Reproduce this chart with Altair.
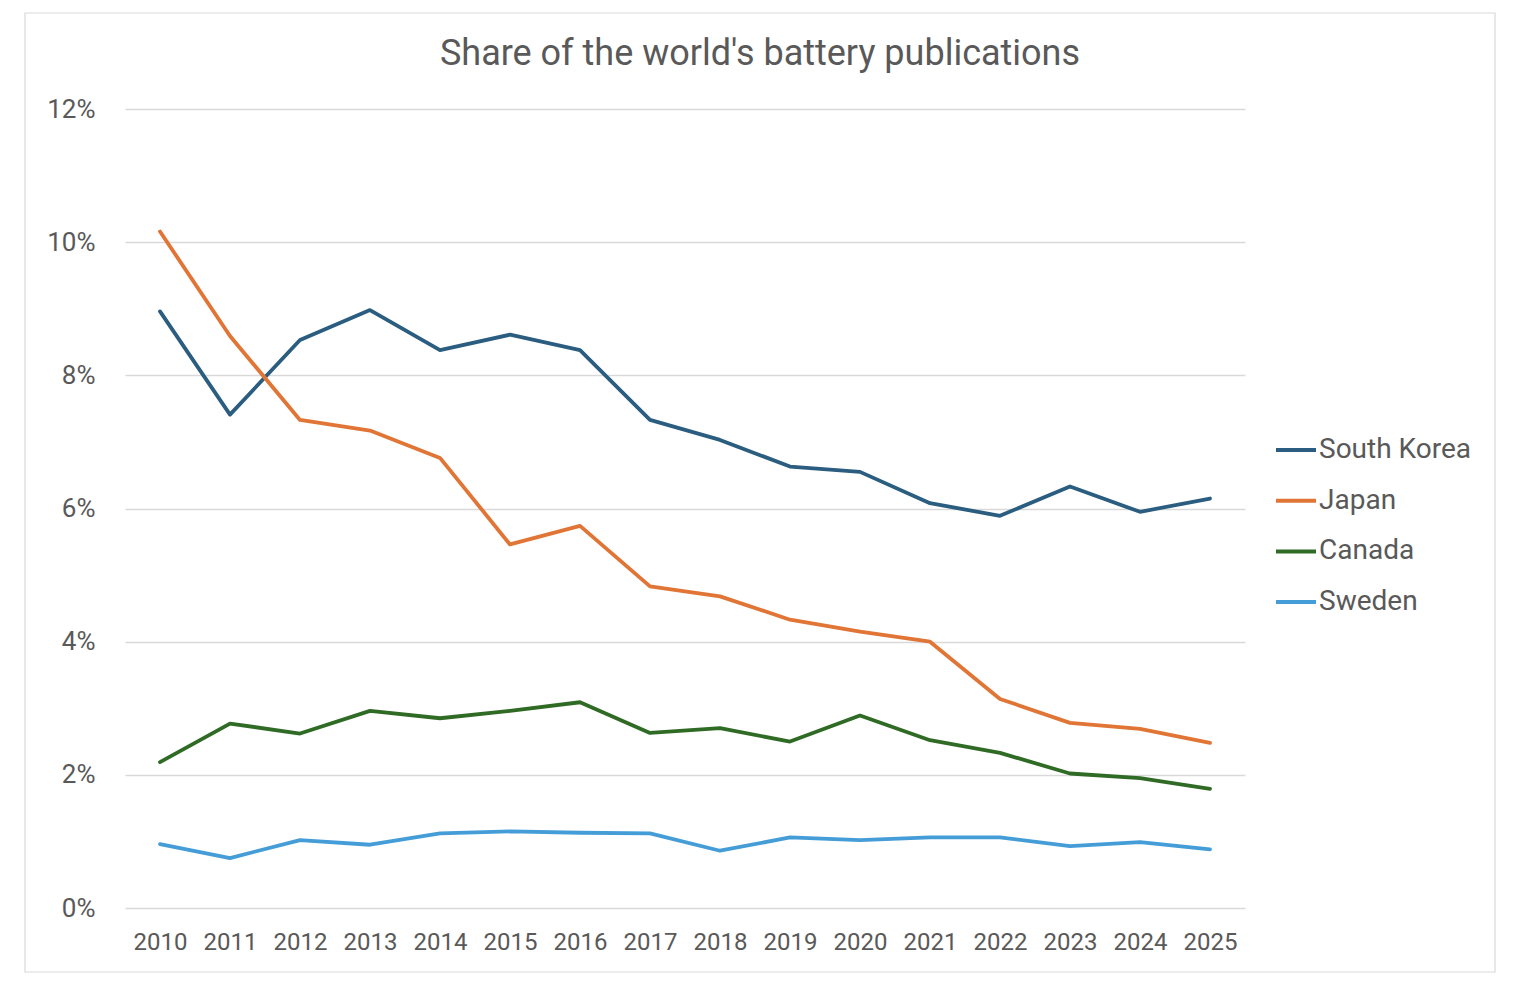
import altair as alt
import pandas as pd

years = [str(y) for y in range(2010, 2026)]
countries = ["South Korea", "Japan", "Canada", "Sweden"]
colors = ["#2A5D80", "#E07535", "#2F6B24", "#459DD8"]

south_korea = [8.96, 7.41, 8.53, 8.98, 8.38, 8.61, 8.38, 7.33, 7.03, 6.63, 6.55, 6.08, 5.89, 6.33, 5.95, 6.15]
japan = [10.16, 8.59, 7.33, 7.17, 6.76, 5.46, 5.74, 4.83, 4.68, 4.33, 4.15, 4.00, 3.14, 2.78, 2.69, 2.48]
canada = [2.19, 2.77, 2.62, 2.96, 2.85, 2.96, 3.09, 2.63, 2.70, 2.50, 2.89, 2.52, 2.33, 2.02, 1.95, 1.79]
sweden = [0.96, 0.75, 1.02, 0.95, 1.12, 1.15, 1.13, 1.12, 0.86, 1.06, 1.02, 1.06, 1.06, 0.93, 0.99, 0.88]

y_ticks = [0, 2, 4, 6, 8, 10, 12]

series = {"South Korea": south_korea, "Japan": japan, "Canada": canada, "Sweden": sweden}
rows = []
for name, vals in series.items():
    for yr, v in zip(years, vals):
        rows.append({"year": yr, "country": name, "share": v})
df = pd.DataFrame(rows)

FONT = "Roboto"
TEXT = "#595959"

frame = alt.Chart(pd.DataFrame({"a": [0]})).mark_rect(
    fill=None, stroke="#D9D9D9", strokeWidth=1.2
).encode(
    x=alt.value(-100), x2=alt.value(1370), y=alt.value(-96), y2=alt.value(863)
)

lines = alt.Chart(df).mark_line(strokeWidth=3.8, strokeCap="round", strokeJoin="round").encode(
    x=alt.X("year:O", sort=years,
            scale=alt.Scale(type="point", padding=0.5),
            axis=alt.Axis(title=None, labelAngle=0, domain=False, ticks=False, grid=False,
                          labelFontSize=24, labelColor=TEXT, labelFont=FONT, labelPadding=22)),
    y=alt.Y("share:Q",
            scale=alt.Scale(domain=[0, 12], nice=False),
            axis=alt.Axis(title=None, values=y_ticks, labelExpr="datum.value + '%'",
                          domain=False, ticks=False, grid=True, gridColor="#D9D9D9", gridWidth=1.3,
                          labelFontSize=26, labelColor=TEXT, labelFont=FONT, labelPadding=30)),
    color=alt.Color("country:N",
                    scale=alt.Scale(domain=countries, range=colors),
                    sort=countries,
                    legend=alt.Legend(title=None, orient="none", legendX=1149, legendY=319,
                                      symbolType="stroke", symbolSize=1600, symbolStrokeWidth=4,
                                      labelFontSize=28, labelColor=TEXT, labelFont=FONT,
                                      labelOffset=1, rowPadding=14.7)),
    detail="country:N",
)

chart = alt.layer(frame, lines).properties(
    width=1120,
    height=799,
    background="white",
    autosize=alt.AutoSizeParams(type="none"),
    padding={"left": 117, "top": 101, "right": 258, "bottom": 70},
    title=alt.TitleParams(
        "Share of the world's battery publications",
        fontSize=36, font=FONT, color=TEXT, fontWeight="normal",
        anchor="middle", frame="group", dx=75, offset=-89, baseline="alphabetic",
    ),
).configure_view(strokeWidth=0, stroke="transparent")

chart.save("out.html", embed_options={"renderer": "svg", "actions": False})
